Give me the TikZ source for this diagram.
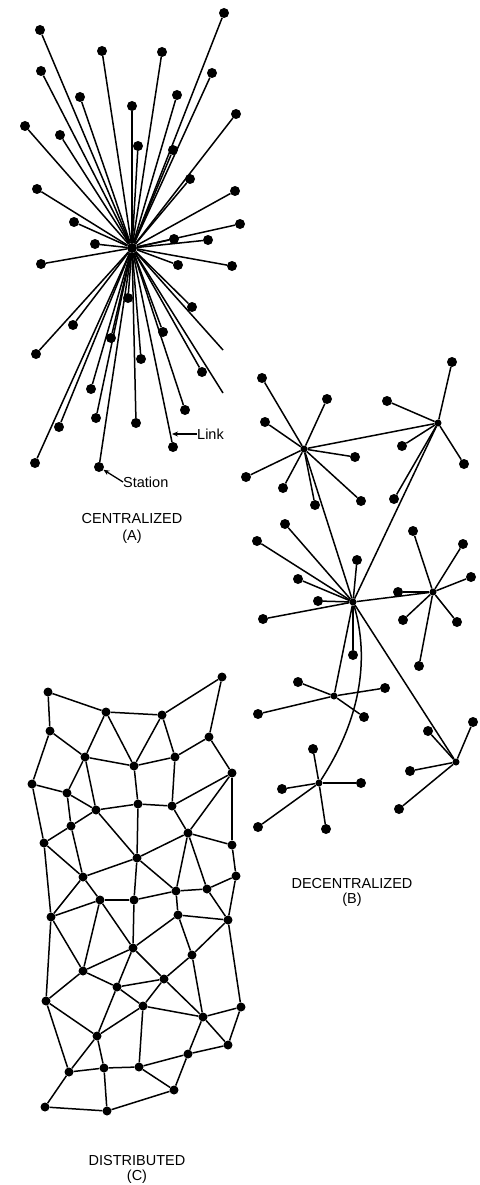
\documentclass[tikz,border=0pt]{standalone}
\usepackage{fontspec}
\setmainfont{Liberation Sans}
\usetikzlibrary{arrows.meta}
\tikzset{
  dot/.style={circle, fill=black, inner sep=0pt, minimum size=10pt},
  sdot/.style={circle, fill=black, inner sep=0pt, minimum size=9pt},
  hub/.style={circle, fill=black, inner sep=0pt, minimum size=7pt},
  link/.style={line width=1.5pt, black},
  lbl/.style={font=\fontsize{14.5}{16}\selectfont, inner sep=0pt},
  arr/.style={line width=1.3pt, -{Stealth[length=6pt,width=5pt]}}
}
\begin{document}
\begin{tikzpicture}[x=1pt,y=-1pt]
\useasboundingbox (0,0) rectangle (479,1185);
% ---------------- Centralized (A)
\node[hub, minimum size=10pt] (hA) at (132,248) {};
\foreach \n/\x/\y in {a1/224/13,a2/40/30,a3/102/51,a4/162/52,a5/41/71,a6/212/73,a7/80/97,a8/177/95,a9/132/106,a10/236/114,a11/25/126,a12/60/135,a13/138/146,a14/173/150,a15/190/179,a16/37/189,a17/235/191,a18/74/222,a19/240/224,a20/174/239,a21/208/240,a22/95/244,a23/41/264,a24/178/265,a25/232/266,a26/128/298,a27/192/307,a28/73/325,a29/163/332,a30/111/338,a31/36/354,a32/141/359,a33/202/372,a34/91/389,a35/185/410,a36/96/418,a37/59/427,a38/136/423,a39/173/447,a40/35/463,a41/99/467}
  {\node[dot] (\n) at (\x,\y) {};}
\coordinate (ae1) at (223,350);
\coordinate (ae2) at (223,393);
\foreach \n in {a1,a2,a3,a4,a5,a6,a7,a8,a9,a10,a11,a12,a13,a14,a15,a16,a17,a18,a19,a20,a21,a22,a23,a24,a25,a26,a27,a28,a29,a30,a31,a32,a33,a34,a35,a36,a37,a38,a39,a40,a41,ae1,ae2}
  {\draw[link] (hA) -- (\n);}
\node[lbl, anchor=west] (stn) at (123,482) {Station};
\draw[arr] (stn.west) -- (a41);
\node[lbl, anchor=west] (lnk) at (197,434) {Link};
\coordinate (lk) at (172,434);
\draw[arr] (lnk.west) -- (lk);
\node[lbl] (tA) at (132,519) {CENTRALIZED};
\node[lbl] (tA2) at (132,537) {(A)};
% ---------------- Decentralized (B)
\foreach \n/\x/\y in {D1/304/449,D2/438/423,D3/353/602,D4/433/592,D5/334/696,D6/319/783,D7/456/762}
  {\node[hub] (\n) at (\x,\y) {};}
\foreach \n/\x/\y in {b1/262/378,b2/327/399,b3/265/422,b4/355/457,b5/246/477,b6/283/488,b7/315/505,b8/361/501,b9/452/362,b10/387/401,b11/402/446,b12/464/464,b13/394/499,b14/285/524,b15/257/541,b16/357/560,b17/298/579,b18/318/601,b19/263/619,b20/353/655,b21/413/531,b22/463/544,b23/398/592,b24/471/577,b25/403/620,b26/457/622,b27/419/666,b28/298/682,b29/385/688,b30/258/714,b31/364/717,b32/313/749,b33/282/789,b34/361/783,b35/258/827,b36/326/829,b37/428/731,b38/473/722,b39/410/771,b40/399/809}
  {\node[dot] (\n) at (\x,\y) {};}
\foreach \h/\n in {D1/b1,D1/b2,D1/b3,D1/b4,D1/b5,D1/b6,D1/b7,D1/b8,D2/b9,D2/b10,D2/b11,D2/b12,D2/b13,D3/b14,D3/b15,D3/b16,D3/b17,D3/b18,D3/b19,D3/b20,D4/b21,D4/b22,D4/b23,D4/b24,D4/b25,D4/b26,D4/b27,D5/b28,D5/b29,D5/b30,D5/b31,D6/b32,D6/b33,D6/b34,D6/b35,D6/b36,D7/b37,D7/b38,D7/b39,D7/b40,D1/D2,D1/D3,D2/D3,D3/D4,D3/D5,D3/D7}
  {\draw[link] (\h) -- (\n);}
\draw[link] (D3) .. controls (370,660) and (360,720) .. (D6);
\node[lbl] (tB) at (352,883) {DECENTRALIZED};
\node[lbl] (tB2) at (352,900) {(B)};
% ---------------- Distributed (C)
\foreach \n/\x/\y in {n1/48/692,n2/106/712,n3/162/715,n4/222/677,n5/50/731,n6/85/757,n7/134/766,n8/175/757,n9/209/737,n10/32/784,n11/67/793,n12/96/810,n13/138/804,n14/172/806,n15/232/773,n16/71/826,n17/44/843,n18/188/833,n19/232/845,n20/137/858,n21/83/877,n22/236/876,n23/176/891,n24/207/889,n25/100/900,n26/134/900,n27/51/917,n28/178/915,n29/228/920,n30/133/948,n31/192/955,n32/83/971,n33/164/979,n34/117/987,n35/46/1001,n36/143/1006,n37/241/1007,n38/203/1017,n39/97/1036,n40/228/1045,n41/188/1054,n42/69/1072,n43/104/1068,n44/139/1067,n45/174/1090,n46/45/1107,n47/107/1111}
  {\node[sdot] (\n) at (\x,\y) {};}
\foreach \a/\b in {n1/n2,n1/n5,n2/n3,n3/n4,n4/n9,n2/n6,n2/n7,n3/n7,n3/n8,n5/n6,n5/n10,n6/n7,n7/n8,n8/n9,n9/n15,n6/n11,n6/n12,n7/n13,n8/n14,n10/n11,n10/n17,n11/n12,n11/n16,n12/n13,n13/n14,n14/n15,n15/n18,n15/n19,n12/n16,n12/n20,n13/n20,n14/n18,n16/n17,n16/n21,n17/n21,n17/n27,n18/n20,n18/n19,n18/n23,n18/n24,n19/n22,n20/n21,n20/n23,n20/n26,n21/n25,n21/n27,n22/n24,n22/n29,n23/n24,n23/n26,n23/n28,n24/n29,n25/n26,n25/n27,n25/n32,n25/n30,n26/n30,n28/n30,n28/n29,n28/n31,n29/n31,n29/n37,n27/n32,n27/n35,n30/n32,n30/n34,n30/n33,n31/n33,n31/n38,n32/n34,n32/n35,n33/n34,n33/n36,n33/n38,n34/n36,n34/n39,n35/n39,n35/n42,n36/n39,n36/n38,n36/n44,n37/n38,n37/n40,n38/n40,n38/n41,n39/n42,n39/n43,n40/n41,n41/n44,n41/n45,n42/n43,n43/n44,n44/n45,n42/n46,n43/n47,n46/n47,n47/n45}
  {\draw[link] (\a) -- (\b);}
\node[lbl] (tC) at (137,1160) {DISTRIBUTED};
\node[lbl] (tC2) at (137,1177) {(C)};
\end{tikzpicture}
\end{document}
